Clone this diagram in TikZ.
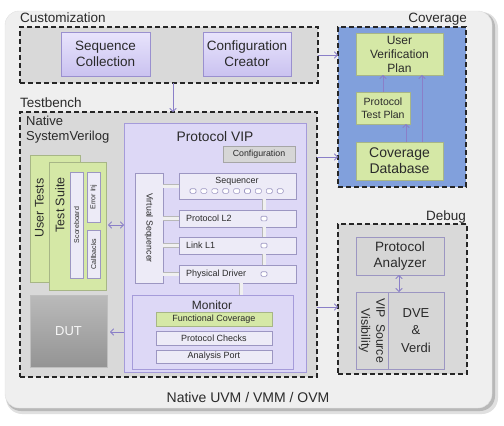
\documentclass[tikz,border=0pt]{standalone}
\usepackage{fontspec}
\setmainfont{Liberation Sans}
\usetikzlibrary{fit,arrows.meta,shadows,calc}
\definecolor{outerbg}{HTML}{EFEFEF}
\definecolor{dashbg}{HTML}{D9D9D9}
\definecolor{lavtop}{HTML}{E8E4FC}
\definecolor{lavbot}{HTML}{CAC2F0}
\definecolor{lavborder}{HTML}{9A90CF}
\definecolor{vipfill}{HTML}{DDD8F6}
\definecolor{vipborder}{HTML}{A59BDA}
\definecolor{innerfill}{HTML}{EDEBF7}
\definecolor{innerborder}{HTML}{9C96C2}
\definecolor{greenfill}{HTML}{D5E8A6}
\definecolor{greenborder}{HTML}{A7B686}
\definecolor{covblue}{HTML}{81A0DC}
\definecolor{arrowc}{HTML}{8A7FC8}
\definecolor{txt}{HTML}{2A2A2A}
\definecolor{graybox}{HTML}{D6D6D6}
\newcommand\myfs[2]{\fontsize{#1pt}{#2pt}\selectfont}
\tikzset{
  dashbox/.style={draw=black!85, line width=1.6pt, dash pattern=on 5pt off 3pt},
  fbox/.style={inner sep=0pt, outer sep=0pt, fit={#1}},
  sh/.style={drop shadow={shadow xshift=1.3pt, shadow yshift=-1.3pt, opacity=0.3, fill=black!70}},
  lav/.style={draw=lavborder, line width=0.8pt, top color=lavtop, bottom color=lavbot},
  vip/.style={draw=vipborder, line width=1pt, fill=vipfill},
  innerb/.style={draw=innerborder, line width=0.7pt, fill=innerfill},
  greenb/.style={draw=greenborder, line width=0.7pt, fill=greenfill},
  grayb/.style={draw=innerborder, line width=0.8pt, fill=graybox},
  conn/.style={draw=arrowc, line width=0.9pt, -{Straight Barb[length=3pt,width=6.5pt]}},
  dconn/.style={conn, {Straight Barb[length=3pt,width=6.5pt]}-{Straight Barb[length=3pt,width=6.5pt]}},
  bar/.style={draw=black!28, double=black!6, double distance=3pt, line width=0.7pt},
  sqr/.style={draw=innerborder, fill=white, rounded corners=1.2pt, minimum width=6pt, minimum height=4.6pt, inner sep=0pt, line width=0.6pt},
  lbl/.style={text=txt, inner sep=0pt, align=center},
}
\begin{document}
\begin{tikzpicture}[x=1pt,y=-1pt]
\useasboundingbox (0,0) rectangle (504,426);
% outer panel
\fill[black!12, rounded corners=16pt] (6,12) rectangle (498,414);
\fill[black!28, rounded corners=15pt] (6,12) rectangle (495,411);
\filldraw[fill=outerbg, draw=black!12, rounded corners=14pt] (5,11) rectangle (492,408);

% section labels
\node[lbl, anchor=base west, font=\myfs{13.5}{16}] (custlbl) at (20,22) {Customization};
\node[lbl, anchor=base east, font=\myfs{13.5}{16}] (covlbl) at (467,22) {Coverage};
\node[lbl, anchor=base west, font=\myfs{13.5}{16}] (tblbl) at (20,107) {Testbench};
\node[lbl, anchor=base east, font=\myfs{13.5}{16}] (dbglbl) at (466,220) {Debug};
\node[lbl, font=\myfs{14}{16}] (native) at (248,397) {Native UVM / VMM / OVM};

% Customization
\node[dashbox, fill=dashbg, fbox={(20,27) (318,83)}] (cust) {};
\node[lav, sh, fbox={(61,32) (150,76)}] (seqcol) {};
\node[lbl, font=\myfs{13.5}{16}] (seqcolt) at (seqcol.center) {Sequence\\Collection};
\node[lav, sh, fbox={(203,32) (291,76)}] (cfgcr) {};
\node[lbl, font=\myfs{13.5}{16}] (cfgcrt) at (cfgcr.center) {Configuration\\Creator};

% Coverage
\node[dashbox, fill=covblue, fbox={(338,27) (466,187)}] (cov) {};
\node[greenb, sh, fbox={(356,33) (443,75)}] (uvp) {};
\node[lbl, font=\myfs{12}{14}] (uvpt) at (uvp.center) {User\\Verification\\Plan};
\node[greenb, sh, fbox={(356,92) (410,124)}] (ptp) {};
\node[lbl, font=\myfs{10.5}{13}] (ptpt) at (ptp.center) {Protocol\\Test Plan};
\node[greenb, sh, fbox={(356,142) (443,180)}] (covdb) {};
\node[lbl, font=\myfs{14}{16}] (covdbt) at (covdb.center) {Coverage\\Database};
\coordinate (xa) at (406,0);
\coordinate (xb) at (422,0);
\draw[conn] (ptp.north) -- (ptp.north |- uvp.south);
\draw[conn] (covdb.north -| xa) -- (ptp.south -| xa);
\draw[conn] (covdb.north -| xb) -- (uvp.south -| xb);

% Testbench
\node[dashbox, fill=dashbg, fbox={(20,112) (317,377)}] (tb) {};
\node[lbl, anchor=north west, align=left, font=\myfs{13}{15}] (nsv) at (26,116) {Native\\SystemVerilog};
\node[greenb, sh, fbox={(30,155) (80,282)}] (ut) {};
\node[greenb, sh, fbox={(49,162) (106,290)}] (ts) {};
\node[lbl, rotate=90, font=\myfs{12.5}{14}] (utl) at (39.5,208) {User Tests};
\node[lbl, rotate=90, font=\myfs{12.5}{14}] (tsl) at (60,205) {Test Suite};
\node[innerb, fbox={(70,172) (83,278)}] (sb) {};
\node[innerb, fbox={(87,172) (100,222)}] (ei) {};
\node[innerb, fbox={(87,230) (100,278)}] (cb) {};
\node[lbl, rotate=90, font=\myfs{7}{8}] (sbl) at (sb.center) {Scoreboard};
\node[lbl, rotate=90, font=\myfs{7}{8}] (eil) at (ei.center) {Error Inj};
\node[lbl, rotate=90, font=\myfs{7}{8}] (cbl) at (cb.center) {Callbacks};
\node[sh, draw=black!25, line width=0.6pt, top color=black!27, bottom color=black!42, fbox={(30,295) (107,367)}] (dut) {};
\node[lbl, text=black!3, font=\myfs{13}{15}] (dutt) at (dut.center) {DUT};

% Protocol VIP
\node[vip, sh, fbox={(124,123) (306,372)}] (vipb) {};
\node[lbl, font=\myfs{13.8}{16}] (viplbl) at (215,137) {Protocol VIP};
\node[sh, draw=black!35, line width=0.7pt, fill=graybox, fbox={(223,146) (295,162)}] (cfg) {};
\node[lbl, font=\myfs{8.8}{10}] (cfgt) at (cfg.center) {Configuration};
\node[innerb, sh, fbox={(135,173) (163,283)}] (vseq) {};
\node[lbl, rotate=-90, font=\myfs{8.8}{10}] (vseql) at (vseq.center) {Virtual Sequencer};
\node[innerb, sh, fbox={(179,173) (296,199)}] (seq) {};
\node[lbl, font=\myfs{8.9}{10}] (seql) at (237,181) {Sequencer};
\foreach \i in {1,...,9}{
  \pgfmathsetmacro\sx{193+10.9*(\i-1)}
  \node[sqr] (sq\i) at (\sx,191) {};
}
\node[innerb, sh, fbox={(179,210) (296,227)}] (l2) {};
\node[innerb, sh, fbox={(179,237) (296,254)}] (l1) {};
\node[innerb, sh, fbox={(179,265) (296,283)}] (pd) {};
\node[lbl, anchor=west, font=\myfs{9}{10}] (l2l) at (186,218.5) {Protocol L2};
\node[lbl, anchor=west, font=\myfs{9}{10}] (l1l) at (186,245.5) {Link L1};
\node[lbl, anchor=west, font=\myfs{9}{10}] (pdl) at (186,274.5) {Physical Driver};
\coordinate (vx) at (264,0);
\coordinate (mx) at (241,0);
\node[sqr] (sqa) at (l2.center -| vx) {};
\node[sqr] (sqb) at (l1.center -| vx) {};
\node[sqr] (sqc) at (pd.center -| vx) {};
\draw[bar] (vseq.east |- seq.west) -- (seq.west);
\draw[bar] (vseq.east |- l2.west) -- (l2.west);
\draw[bar] (vseq.east |- l1.west) -- (l1.west);
\draw[bar] (vseq.east |- pd.west) -- (pd.west);
\draw[bar] (seq.south -| vx) -- (l2.north -| vx);
\draw[bar] (l2.south -| vx) -- (l1.north -| vx);
\draw[bar] (l1.south -| vx) -- (pd.north -| vx);

% Monitor
\node[vip, sh, fbox={(132,295) (293,369)}] (mon) {};
\draw[bar] (pd.south -| mx) -- (mon.north -| mx);
\node[lbl, font=\myfs{12}{14}] (monl) at (212,305) {Monitor};
\node[greenb, sh, fbox={(156,312) (272,326)}] (fc) {};
\node[lbl, font=\myfs{9}{10}] (fct) at (fc.center) {Functional Coverage};
\node[innerb, sh, fbox={(156,331) (272,345)}] (pc) {};
\node[lbl, font=\myfs{9}{10}] (pct) at (pc.center) {Protocol Checks};
\node[innerb, sh, fbox={(156,350) (272,363)}] (ap) {};
\node[lbl, font=\myfs{9}{10}] (apt) at (ap.center) {Analysis Port};

% Debug
\node[dashbox, fill=dashbg, fbox={(338,224) (467,374)}] (dbg) {};
\node[grayb, sh, fbox={(356,237) (444,275)}] (pa) {};
\node[lbl, font=\myfs{13.5}{16}] (pat) at (pa.center) {Protocol\\Analyzer};
\node[grayb, sh, fbox={(356,292) (388,369)}] (vsv) {};
\node[grayb, sh, fbox={(388,292) (444,369)}] (dve) {};
\node[lbl, font=\myfs{13}{17.5}] (dvet) at (dve.center) {DVE\\\&\\Verdi};
\node[lbl, rotate=-90, font=\myfs{12.3}{15}] (vsvl) at (vsv.center) {VIP\enspace Source\\Visibility};

% connectors
\coordinate (ya) at (173,0);
\coordinate (yb) at (0,157);
\coordinate (yc) at (0,307);
\coordinate (yd) at (0,225);
\coordinate (ye) at (0,332);
\coordinate (xc) at (399,0);
\draw[conn] (cust.east) -- (cust.east -| cov.west);
\draw[conn] (cust.south -| ya) -- (tb.north -| ya);
\draw[conn] (tb.east |- yb) -- (cov.west |- yb);
\draw[conn] (tb.east |- yc) -- (dbg.west |- yc);
\draw[dconn] (ts.east |- yd) ++(2,0) -- (vipb.west |- yd);
\draw[conn] (vipb.west |- ye) -- ($(dut.east |- ye)+(3,0)$);
\draw[dconn] (pa.south -| xc) -- (dve.north -| xc);
\end{tikzpicture}
\end{document}
